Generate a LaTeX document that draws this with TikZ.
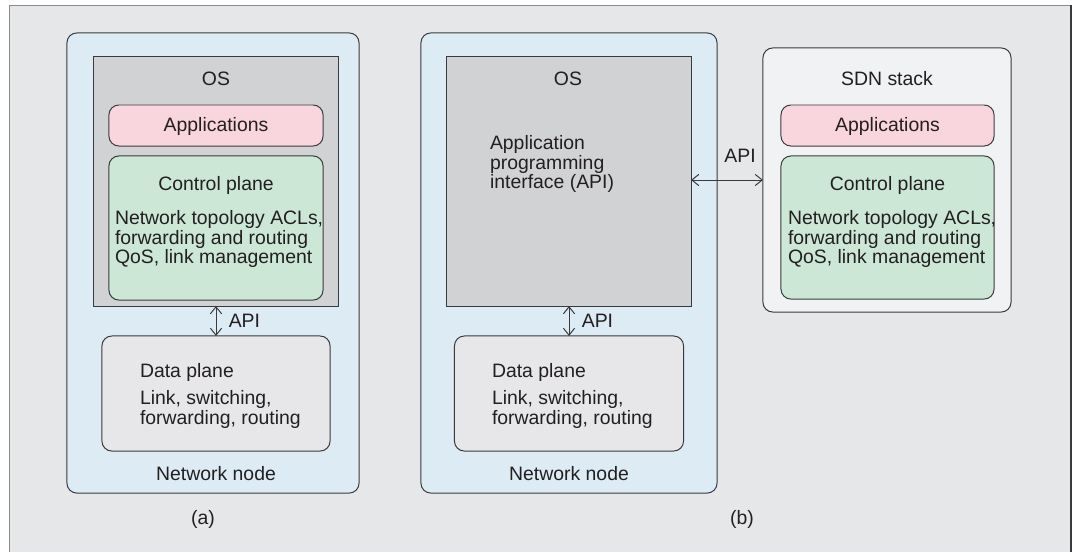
\documentclass[tikz,border=0pt]{standalone}
\usepackage{fontspec}
\setmainfont{Liberation Sans}
\usetikzlibrary{arrows.meta}
\definecolor{bggray}{HTML}{E6E7E9}
\definecolor{framegray}{HTML}{8A8B8D}
\definecolor{linegray}{HTML}{3A3A3C}
\definecolor{nodeblue}{HTML}{DCEBF4}
\definecolor{osgray}{HTML}{D1D2D4}
\definecolor{apppink}{HTML}{F9D5DD}
\definecolor{ctrlgreen}{HTML}{CCE7D6}
\definecolor{datagray}{HTML}{E7E7E9}
\definecolor{sdnwhite}{HTML}{F1F2F4}
\definecolor{txtcol}{HTML}{231F20}
\tikzset{
  box/.style={draw=linegray, line width=0.7pt, inner sep=0pt, outer sep=0pt},
  rbox/.style={box, rounded corners=7pt},
  txt/.style={inner sep=0pt, outer sep=0pt},
  apiarrow/.style={{Straight Barb[length=5pt,width=8pt]}-{Straight Barb[length=5pt,width=8pt]}, draw=linegray, line width=0.7pt}
}
\begin{document}
\begin{tikzpicture}[x=0.025cm, y=-0.025cm, font=\fontsize{13.8pt}{12.8pt}\selectfont, text=txtcol]
\useasboundingbox (0,0) rectangle (1075,552);
% frame
\fill[bggray] (9,5) rectangle (1071,552);
\draw[framegray, line width=0.7pt] (9,552) -- (9,5) -- (1071,5);
\draw[linegray, line width=1pt] (1071,5) -- (1071,552);

% (a) network node
\node[rbox, fill=nodeblue, minimum width=7.3cm, minimum height=11.5cm] (nodeA) at (213,263) {};
\node[box, fill=osgray, minimum width=6.1cm, minimum height=6.225cm] (osA) at (216,181.5) {};
\node[txt, anchor=base] (osAtitle) at (216,85) {OS};
\node[rbox, fill=apppink, minimum width=5.35cm, minimum height=1.025cm] (appA) at (216,125.5) {};
\node[txt, anchor=base] (appAtitle) at (216,131) {Applications};
\node[rbox, fill=ctrlgreen, minimum width=5.35cm, minimum height=3.6cm] (ctrlA) at (216,228) {};
\node[txt, anchor=base] (ctrlAtitle) at (216,190) {Control plane};
\node[txt, anchor=north west, align=left] (ctrlAtext) at (115,210.5)
  {Network topology ACLs,\\forwarding and routing\\QoS, link management};
\node[rbox, fill=datagray, minimum width=5.7cm, minimum height=2.875cm] (dataA) at (216,393.5) {};
\node[txt, anchor=base west] (dataAtitle) at (140,377) {Data plane};
\node[txt, anchor=north west, align=left] (dataAtext) at (140,390.5)
  {Link, switching,\\forwarding, routing};
\node[txt, anchor=base] (nodeAtitle) at (216,480) {Network node};
\node[txt, anchor=base] (capA) at (203,524) {(a)};
\draw[apiarrow] (osA.south) -- (dataA.north)
  node[txt, midway, anchor=west, xshift=13\pgflinewidth] (apiA) {API};

% (b) network node
\node[rbox, fill=nodeblue, minimum width=7.4cm, minimum height=11.5cm] (nodeB) at (569,263) {};
\node[box, fill=osgray, minimum width=6.1cm, minimum height=6.225cm] (osB) at (569,181.5) {};
\node[txt, anchor=base] (osBtitle) at (568,85) {OS};
\node[txt, anchor=north west, align=left] (osBtext) at (490,135.5)
  {Application\\programming\\interface (API)};
\node[rbox, fill=datagray, minimum width=5.725cm, minimum height=2.875cm] (dataB) at (569,393.5) {};
\node[txt, anchor=base west] (dataBtitle) at (492,377) {Data plane};
\node[txt, anchor=north west, align=left] (dataBtext) at (492,390.5)
  {Link, switching,\\forwarding, routing};
\node[txt, anchor=base] (nodeBtitle) at (569,480) {Network node};
\draw[apiarrow] (osB.south) -- (dataB.north)
  node[txt, midway, anchor=west, xshift=13\pgflinewidth] (apiB) {API};

% SDN stack
\node[rbox, fill=sdnwhite, minimum width=6.2cm, minimum height=6.6cm] (sdn) at (887,180) {};
\node[txt, anchor=base] (sdntitle) at (887,85) {SDN stack};
\node[rbox, fill=apppink, minimum width=5.325cm, minimum height=1.025cm] (appS) at (887.5,125.5) {};
\node[txt, anchor=base] (appStitle) at (887.5,131) {Applications};
\node[rbox, fill=ctrlgreen, minimum width=5.325cm, minimum height=3.575cm] (ctrlS) at (887.5,227.5) {};
\node[txt, anchor=base] (ctrlStitle) at (887.5,190) {Control plane};
\node[txt, anchor=north west, align=left] (ctrlStext) at (788,210.5)
  {Network topology ACLs,\\forwarding and routing\\QoS, link management};
\draw[apiarrow] (sdn.west -| osB.east) -- (sdn.west);
\node[txt, anchor=base] (apiS) at (740,162) {API};
\node[txt, anchor=base] (capB) at (742,524) {(b)};
\end{tikzpicture}
\end{document}
